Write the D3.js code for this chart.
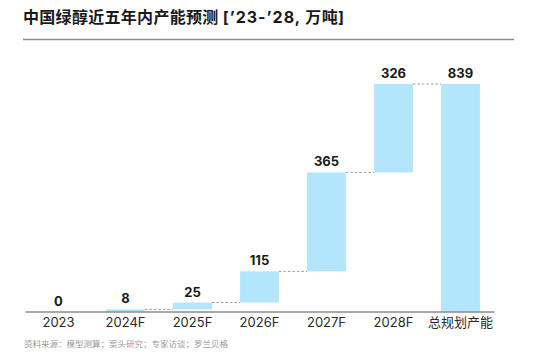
<!DOCTYPE html>
<html><head><meta charset="utf-8">
<script src="https://cdn.jsdelivr.net/npm/d3@7"></script>
<style>
body{margin:0;background:#fff;}
svg{display:block;font-family:Inter,"Noto Sans CJK SC","Noto Sans",sans-serif;}
</style></head>
<body>
<svg id="c" width="547" height="355"></svg>
<script>
const categories = ["2023","2024F","2025F","2026F","2027F","2028F","总规划产能"];
const increments = [0, 8, 25, 115, 365, 326];
const totalValue = 839;
const titleParts = ["中国绿醇近五年内产能预测 ", "[’23-’28, ", "万吨]"];
const sourceText = "资料来源：模型测算；案头研究；专家访谈；罗兰贝格";

const svg = d3.select("#c");
const x = d3.scaleBand().domain(categories).range([25, 494]).paddingInner(0.42).paddingOuter(0.21);
const y = d3.scaleLinear().domain([0, totalValue]).range([311.5, 84]);

let cum = 0;
const rows = categories.map((c, i) => {
  if (i < increments.length) {
    const start = cum; cum += increments[i];
    return {cat: c, start, end: cum, value: increments[i]};
  }
  return {cat: c, start: 0, end: totalValue, value: totalValue};
});

const title = svg.append("text").attr("x", 23).attr("y", 22.5)
  .attr("font-size", 16).attr("font-weight", 700).attr("fill", "#1a1a1a")
  .attr("xml:space", "preserve").style("white-space", "pre");
title.append("tspan").attr("letter-spacing", 0.3).text(titleParts[0]);
title.append("tspan").attr("letter-spacing", 1).text(titleParts[1]);
title.append("tspan").attr("letter-spacing", 0.3).text(titleParts[2]);
svg.append("line").attr("x1", 23).attr("x2", 514).attr("y1", 39.5).attr("y2", 39.5)
  .attr("stroke", "#8c8c8c").attr("stroke-width", 1.5);

svg.selectAll("rect.bar").data(rows.filter(d => d.value > 0)).join("rect")
  .attr("class", "bar")
  .attr("x", d => x(d.cat)).attr("width", x.bandwidth())
  .attr("y", d => y(d.end)).attr("height", d => Math.max(1, y(d.start) - y(d.end)))
  .attr("fill", "#b3e5fc");

for (let i = 0; i < rows.length - 1; i++) {
  const lv = rows[i].end;
  if (lv <= 0) continue;
  svg.append("line")
    .attr("x1", x(rows[i].cat) + x.bandwidth()).attr("x2", x(rows[i+1].cat))
    .attr("y1", y(lv)).attr("y2", y(lv))
    .attr("stroke", "#9a9a9a").attr("stroke-width", 1).attr("stroke-dasharray", "2.5,2");
}

svg.selectAll("text.val").data(rows).join("text")
  .attr("class", "val")
  .attr("x", d => x(d.cat) + x.bandwidth() / 2)
  .attr("y", d => y(d.end) - 6)
  .attr("text-anchor", "middle").attr("font-size", 13).attr("font-weight", 700)
  .attr("fill", "#1a1a1a")
  .text(d => d.value);

const axis = svg.append("g").attr("transform", "translate(0,311.5)")
  .call(d3.axisBottom(x).tickSize(0).tickPadding(6));
axis.select(".domain").attr("stroke", "#555").attr("stroke-width", 1.2);
axis.selectAll("text").attr("font-size", 13).attr("fill", "#2a2a2a")
  .attr("font-family", "Inter,'Noto Sans CJK SC','Noto Sans',sans-serif");

svg.append("text").attr("x", 24).attr("y", 346.5)
  .attr("font-size", 8.5).attr("fill", "#9a9a9a").text(sourceText);
</script>
</body></html>
